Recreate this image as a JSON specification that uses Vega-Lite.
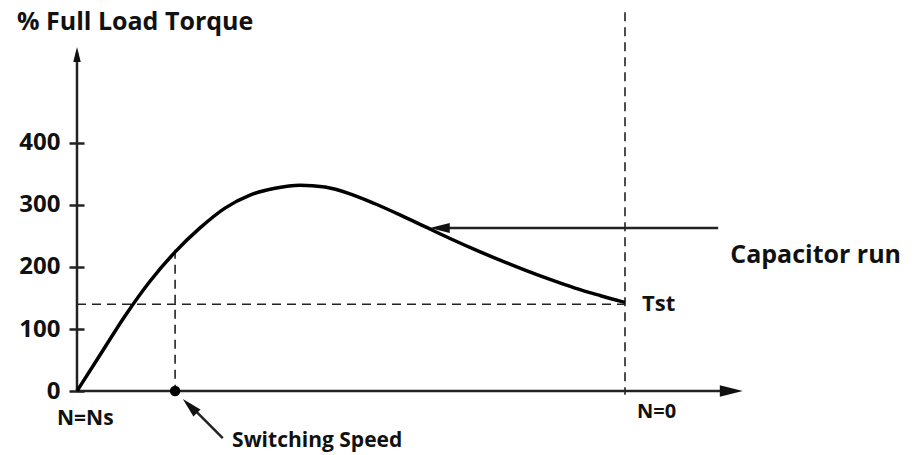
{
  "$schema": "https://vega.github.io/schema/vega-lite/v6.json",
  "width": 916,
  "height": 455,
  "autosize": "none",
  "padding": 0,
  "background": "white",
  "config": {"view": {"stroke": null}},
  "datasets": {
    "curve": [
      {"n": 0, "t": 0}, {"n": 4.2, "t": 58}, {"n": 8.76, "t": 121}, {"n": 13.32, "t": 177},
      {"n": 17.88, "t": 224}, {"n": 22.45, "t": 263}, {"n": 27.0, "t": 295}, {"n": 31.57, "t": 316},
      {"n": 36.13, "t": 327}, {"n": 40.69, "t": 332}, {"n": 45.26, "t": 329}, {"n": 49.82, "t": 318},
      {"n": 54.38, "t": 302}, {"n": 58.94, "t": 284}, {"n": 63.5, "t": 265}, {"n": 68.07, "t": 246},
      {"n": 72.63, "t": 228}, {"n": 77.19, "t": 211}, {"n": 81.75, "t": 195}, {"n": 86.31, "t": 180},
      {"n": 90.88, "t": 166}, {"n": 95.44, "t": 154}, {"n": 99.09, "t": 145}, {"n": 100, "t": 143}
    ],
    "dashes": [
      {"n": 100, "t": 611, "n2": 100, "t2": -6},
      {"n": 0, "t": 140, "n2": 100, "t2": 140},
      {"n": 17.9, "t": 228, "n2": 17.9, "t2": 0}
    ],
    "solid": [
      {"n": 0, "t": 0, "n2": 0, "t2": 545},
      {"n": 0, "t": 0, "n2": 119, "t2": 0},
      {"n": 117, "t": 263, "n2": 67, "t2": 263},
      {"n": 26.6, "t": -75.8, "n2": 20.5, "t2": -22}
    ],
    "heads": [
      {"n": 0, "t": 542.7, "ang": 0, "sz": 225},
      {"n": 119.4, "t": 0, "ang": 90, "sz": 529},
      {"n": 66.2, "t": 263, "ang": -90, "sz": 400},
      {"n": 20.6, "t": -24.2, "ang": -45, "sz": 400}
    ],
    "dot": [{"n": 17.9, "t": 0}],
    "labels": [
      {"label": "% Full Load Torque", "n": -10.95, "t": 595, "fs": 25},
      {"label": "N=Ns", "n": -3.65, "t": -45, "fs": 21},
      {"label": "N=0", "n": 102.2, "t": -34.5, "fs": 20},
      {"label": "Switching Speed", "n": 28.3, "t": -80.6, "fs": 21},
      {"label": "Tst", "n": 103.1, "t": 140, "fs": 22},
      {"label": "Capacitor run", "n": 119.2, "t": 219.4, "fs": 25}
    ],
    "yticks": [{"n": 0, "t": 0}, {"n": 0, "t": 100}, {"n": 0, "t": 200}, {"n": 0, "t": 300}, {"n": 0, "t": 400}]
  },
  "layer": [
    {
      "data": {"name": "yticks"},
      "mark": {"type": "point", "opacity": 0},
      "encoding": {
        "x": {"field": "n", "type": "quantitative", "scale": {"domain": [-14.05, 153.1], "nice": false, "zero": false}, "axis": null},
        "y": {"field": "t", "type": "quantitative", "scale": {"domain": [-103.2, 630.6], "nice": false, "zero": false},
          "axis": {"values": [0, 100, 200, 300, 400], "offset": -84, "domain": false, "grid": false, "title": null,
            "tickSize": 15, "tickWidth": 2.5, "tickColor": "#222", "labelPadding": 9,
            "labelFont": "Open Sans", "labelFontWeight": "bold", "labelFontSize": 24, "labelColor": "#111", "labelBaseline": "middle"}}
      }
    },
    {
      "data": {"name": "dashes"},
      "mark": {"type": "rule", "strokeDash": [9, 6], "strokeWidth": 1.6, "color": "#222"},
      "encoding": {
        "x": {"field": "n", "type": "quantitative", "scale": {"domain": [-14.05, 153.1], "nice": false, "zero": false}},
        "y": {"field": "t", "type": "quantitative", "scale": {"domain": [-103.2, 630.6], "nice": false, "zero": false}},
        "x2": {"field": "n2"},
        "y2": {"field": "t2"}
      }
    },
    {
      "data": {"name": "solid"},
      "mark": {"type": "rule", "strokeWidth": 2.5, "color": "#222"},
      "encoding": {
        "x": {"field": "n", "type": "quantitative", "scale": {"domain": [-14.05, 153.1], "nice": false, "zero": false}},
        "y": {"field": "t", "type": "quantitative", "scale": {"domain": [-103.2, 630.6], "nice": false, "zero": false}},
        "x2": {"field": "n2"},
        "y2": {"field": "t2"}
      }
    },
    {
      "data": {"name": "curve"},
      "mark": {"type": "line", "interpolate": "monotone", "strokeWidth": 3.5, "color": "#000"},
      "encoding": {
        "x": {"field": "n", "type": "quantitative", "scale": {"domain": [-14.05, 153.1], "nice": false, "zero": false}},
        "y": {"field": "t", "type": "quantitative", "scale": {"domain": [-103.2, 630.6], "nice": false, "zero": false}}
      }
    },
    {
      "data": {"name": "heads"},
      "mark": {"type": "point", "shape": "M0,-1L0.5,1L-0.5,1Z", "filled": true, "opacity": 1, "color": "#111"},
      "encoding": {
        "x": {"field": "n", "type": "quantitative", "scale": {"domain": [-14.05, 153.1], "nice": false, "zero": false}},
        "y": {"field": "t", "type": "quantitative", "scale": {"domain": [-103.2, 630.6], "nice": false, "zero": false}},
        "angle": {"field": "ang", "type": "quantitative", "scale": null},
        "size": {"field": "sz", "type": "quantitative", "scale": null}
      }
    },
    {
      "data": {"name": "dot"},
      "mark": {"type": "point", "shape": "circle", "filled": true, "opacity": 1, "size": 110, "color": "#000"},
      "encoding": {
        "x": {"field": "n", "type": "quantitative", "scale": {"domain": [-14.05, 153.1], "nice": false, "zero": false}},
        "y": {"field": "t", "type": "quantitative", "scale": {"domain": [-103.2, 630.6], "nice": false, "zero": false}}
      }
    },
    {
      "data": {"name": "labels"},
      "mark": {"type": "text", "align": "left", "baseline": "middle", "font": "Open Sans", "fontWeight": "bold", "color": "#111"},
      "encoding": {
        "x": {"field": "n", "type": "quantitative", "scale": {"domain": [-14.05, 153.1], "nice": false, "zero": false}},
        "y": {"field": "t", "type": "quantitative", "scale": {"domain": [-103.2, 630.6], "nice": false, "zero": false}},
        "text": {"field": "label", "type": "nominal"},
        "size": {"field": "fs", "type": "quantitative", "scale": null}
      }
    }
  ]
}
